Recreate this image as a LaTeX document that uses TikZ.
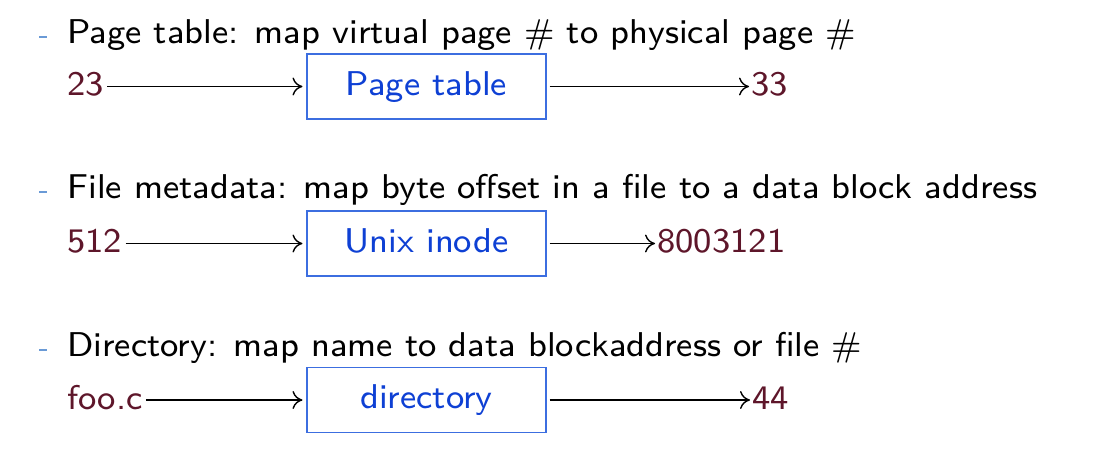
\documentclass[tikz,border=0pt]{standalone}
\usepackage{fontspec}
\setsansfont{lmsans8-regular}[Extension=.otf]
\usetikzlibrary{arrows.meta}
\definecolor{numcol}{RGB}{94,22,42}
\definecolor{boxtext}{RGB}{14,64,212}
\definecolor{boxline}{RGB}{60,110,224}
\definecolor{bulcol}{RGB}{106,154,214}
\tikzset{
  every node/.style={font=\sffamily\fontsize{17.2}{21}\selectfont, inner sep=0pt},
  head/.style={anchor=base west, text=black},
  num/.style={anchor=base west, text=numcol},
  mapbox/.style={draw=boxline, line width=0.55pt, text=boxtext,
    minimum width=119.5pt, minimum height=32.5pt, text height=12.2pt, text depth=3.4pt},
  maparrow/.style={line width=0.7pt, -{Computer Modern Rightarrow[length=5pt,width=9pt]}},
  bullet/.style={draw=bulcol, line width=0.8pt}
}
\begin{document}
\begin{tikzpicture}[x=0.5pt,y=-0.5pt]
\useasboundingbox (0,0) rectangle (1106,466);
% row 1
\draw[bullet] (39,37) -- (47,37);
\node[head] (h1) at (67,43) {Page table: map virtual page \# to physical page \#};
\node[num] (i1) at (67,95) {23};
\node[mapbox] (b1) at (426.5,86.5) {Page table};
\node[num] (o1) at (751,95) {33};
\draw[maparrow, shorten <=1.5pt, shorten >=2pt] (i1.east |- b1.west) -- (b1.west);
\draw[maparrow, shorten <=1.5pt, shorten >=1pt] (b1.east) -- (o1.west |- b1.east);
% row 2
\draw[bullet] (39,192) -- (47,192);
\node[head] (h2) at (67,198) {File metadata: map byte offset in a file to a data block address};
\node[num] (i2) at (67,252) {512};
\node[mapbox] (b2) at (426.5,243.5) {Unix inode};
\node[num] (o2) at (657,252) {8003121};
\draw[maparrow, shorten <=1.5pt, shorten >=2pt] (i2.east |- b2.west) -- (b2.west);
\draw[maparrow, shorten <=1.5pt, shorten >=1pt] (b2.east) -- (o2.west |- b2.east);
% row 3
\draw[bullet] (39,350) -- (47,350);
\node[head] (h3) at (67,356) {Directory: map name to data blockaddress or file \#};
\node[num] (i3) at (67,409) {foo.c};
\node[mapbox] (b3) at (426.5,400) {directory};
\node[num] (o3) at (752,409) {44};
\draw[maparrow, shorten <=1.5pt, shorten >=2pt] (i3.east |- b3.west) -- (b3.west);
\draw[maparrow, shorten <=1.5pt, shorten >=1pt] (b3.east) -- (o3.west |- b3.east);
\end{tikzpicture}
\end{document}
